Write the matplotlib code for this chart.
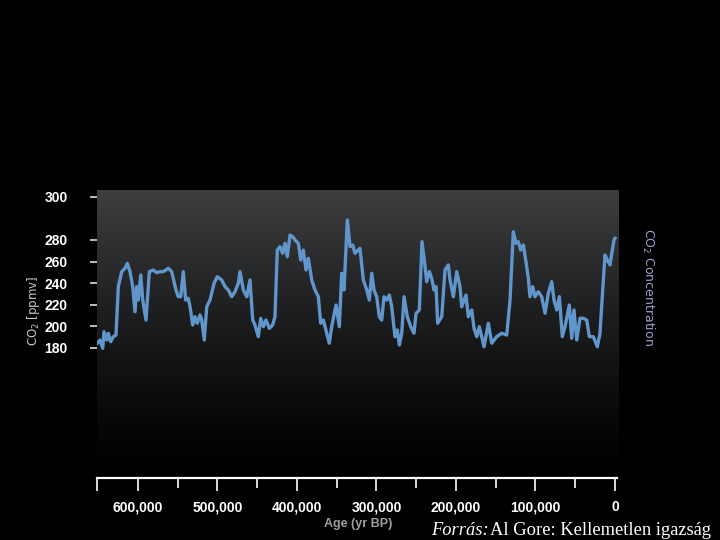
import matplotlib.pyplot as plt
import numpy as np

# age in thousand years BP, CO2 in ppmv
age_kyr = [651.0, 647.6, 644.2, 642.6, 639.2, 637.2, 634.2, 630.9, 627.5, 624.6,
           620.3, 616.2, 613.3, 609.9, 606.5, 603.6, 601.5, 599.5, 596.4, 593.9,
           589.8, 585.6, 580.6, 576.3, 572.2, 568.0, 561.7, 557.5, 552.1, 549.2,
           546.1, 542.9, 539.9, 536.6, 534.4, 531.0, 528.2, 525.3, 521.9, 519.7,
           516.5, 513.4, 509.3, 504.2, 500.1, 494.6, 490.4, 486.3, 482.0, 477.9,
           473.7, 471.6, 467.4, 463.1, 459.0, 455.6, 452.7, 448.6, 445.5, 442.3,
           438.9, 434.7, 430.5, 427.6, 424.7, 421.3, 417.9, 415.0, 412.1, 408.7,
           405.3, 402.4, 398.3, 395.2, 392.0, 388.6, 385.7, 381.4, 377.3, 373.1,
           370.1, 366.8, 362.5, 359.3, 356.3, 350.8, 346.7, 343.7, 340.8, 336.6,
           333.2, 329.8, 327.0, 320.7, 316.5, 312.2, 309.0, 305.9, 303.1, 299.7,
           296.4, 293.4, 290.5, 287.1, 283.8, 280.8, 276.7, 273.8, 271.2, 268.2,
           265.3, 261.2, 256.9, 252.8, 250.2, 246.1, 242.7, 238.9, 236.8, 233.5,
           230.5, 227.6, 225.1, 223.0, 217.9, 213.8, 209.6, 207.5, 203.3, 199.1,
           194.9, 192.8, 187.4, 184.5, 180.2, 177.3, 173.9, 170.6, 164.7, 159.3,
           155.0, 148.8, 142.5, 136.2, 132.0, 127.9, 124.5, 121.6, 118.6, 115.3,
           112.3, 109.0, 106.9, 103.5, 100.6, 96.5, 92.2, 88.0, 83.9, 79.6,
           76.7, 73.3, 70.0, 66.3, 62.9, 57.5, 54.5, 51.6, 48.2, 44.0,
           39.9, 35.6, 32.3, 27.3, 22.3, 18.9, 15.5, 12.6, 9.7, 6.3,
           4.1, 1.3, 0.0]
co2_ppmv = [184.4, 187.4, 179.7, 195.1, 187.4, 193.6, 185.8, 190.5, 192.0, 236.8,
            250.7, 253.8, 258.4, 250.7, 236.8, 213.6, 236.8, 224.4, 247.6, 224.4,
            205.9, 250.7, 252.2, 249.7, 250.7, 250.7, 253.8, 250.7, 233.7, 227.5,
            227.5, 250.7, 224.4, 226.0, 218.2, 201.3, 209.0, 202.9, 210.6, 205.9,
            187.4, 218.2, 224.4, 239.9, 246.0, 243.0, 236.8, 233.7, 227.5, 232.1,
            239.9, 250.7, 233.7, 227.5, 243.0, 205.9, 201.3, 190.5, 207.5, 199.7,
            205.9, 198.2, 201.3, 209.0, 270.7, 273.8, 267.7, 277.0, 264.5, 284.6,
            283.1, 280.0, 277.0, 261.5, 270.7, 252.2, 263.1, 243.0, 233.7, 227.5,
            202.9, 205.9, 193.6, 184.4, 199.7, 219.8, 199.7, 249.2, 233.7, 298.5,
            273.8, 275.4, 267.7, 272.3, 243.0, 233.7, 224.4, 249.2, 233.7, 227.5,
            209.0, 205.9, 227.5, 224.4, 229.1, 218.2, 190.5, 196.7, 182.8, 193.6,
            227.5, 209.0, 199.7, 193.6, 212.1, 215.2, 278.4, 255.3, 241.4, 250.7,
            244.5, 233.7, 236.8, 202.9, 209.0, 252.2, 256.9, 243.0, 227.5, 250.7,
            236.8, 218.2, 229.1, 209.0, 215.2, 198.2, 190.5, 199.7, 181.2, 202.9,
            184.4, 190.5, 193.6, 192.0, 224.4, 287.7, 277.0, 278.4, 270.7, 275.4,
            261.5, 244.5, 227.5, 236.8, 227.5, 232.1, 227.5, 212.1, 230.7, 241.4,
            224.4, 215.2, 227.5, 190.5, 199.7, 219.8, 189.0, 215.2, 187.4, 207.5,
            207.5, 205.9, 190.5, 190.5, 181.2, 193.6, 233.7, 266.1, 261.5, 256.9,
            267.7, 280.0, 281.6]

y_tick_pos = [180, 200, 220, 240, 260, 280, 320]
y_tick_labels = ['180', '200', '220', '240', '260', '280', '300']
x_major = [651000, 600000, 500000, 400000, 300000, 200000, 100000, 0]
x_major_labels = ['', '600,000', '500,000', '400,000', '300,000', '200,000', '100,000', '0']
x_minor = [550000, 450000, 350000, 250000, 150000, 50000]

narrow = ['Liberation Sans Narrow', 'Liberation Sans', 'DejaVu Sans']

fig = plt.figure(figsize=(7.2, 5.4), dpi=100, facecolor='black')
ax = fig.add_axes([97 / 720, 1 - 478 / 540, 522 / 720, 288 / 540])
ax.set_facecolor('black')

# dark gray gradient panel
grad = np.linspace(0, 1, 256).reshape(-1, 1) ** 1.3 * 0.24
ax.imshow(np.dstack([grad, grad * 1.02, grad * 1.05]).clip(0, 1), aspect='auto',
          extent=[651400, -5000, 59.6, 326.3], origin='lower', zorder=0)

ax.plot(np.array(age_kyr) * 1000, co2_ppmv, color='#6196cc', lw=2.4, zorder=2)

ax.set_xlim(651400, -5000)
ax.set_ylim(59.6, 326.3)

for s in ['top', 'right', 'left']:
    ax.spines[s].set_visible(False)
ax.spines['bottom'].set_color('white')
ax.spines['bottom'].set_linewidth(1.6)
ax.spines['bottom'].set_bounds(651000, -2000)

ax.set_xticks(x_major)
ax.set_xticklabels(x_major_labels)
ax.set_xticks(x_minor, minor=True)
ax.tick_params(axis='x', which='major', length=9, width=1.2, color='white',
               colors='white', pad=7)
ax.tick_params(axis='x', which='minor', length=7, width=1.2, color='white')

ax.set_yticks(y_tick_pos)
ax.set_yticklabels(y_tick_labels)
ax.tick_params(axis='y', length=5, width=1.2, color='#dddddd', colors='white', pad=16)

for lab in ax.get_xticklabels() + ax.get_yticklabels():
    lab.set_family(narrow)
    lab.set_fontweight('bold')
    lab.set_fontsize(10)

fig.text(358 / 720, 1 - 524 / 540, 'Age (yr BP)', color='#a0a0a0', fontsize=9,
         fontweight='bold', ha='center', va='center', family=narrow)
fig.text(33 / 720, 1 - 311 / 540, r'CO$_2$ [ppmv]', color='#c8c8c8', fontsize=8.5,
         rotation=90, ha='center', va='center')
fig.text(648 / 720, 1 - 287 / 540, r'CO$_2$ Concentration', color='#9aa3cc',
         fontsize=9, rotation=-90, ha='center', va='center')

fig.text(431 / 720, 1 - 535 / 540, 'Forrás:', color='white', fontsize=13.3,
         style='italic', family='Liberation Serif', va='baseline')
fig.text(490 / 720, 1 - 535 / 540, 'Al Gore: Kellemetlen igazság', color='white',
         fontsize=13.3, family='Liberation Serif', va='baseline')

fig.savefig('out.png', dpi=100, facecolor='black')
